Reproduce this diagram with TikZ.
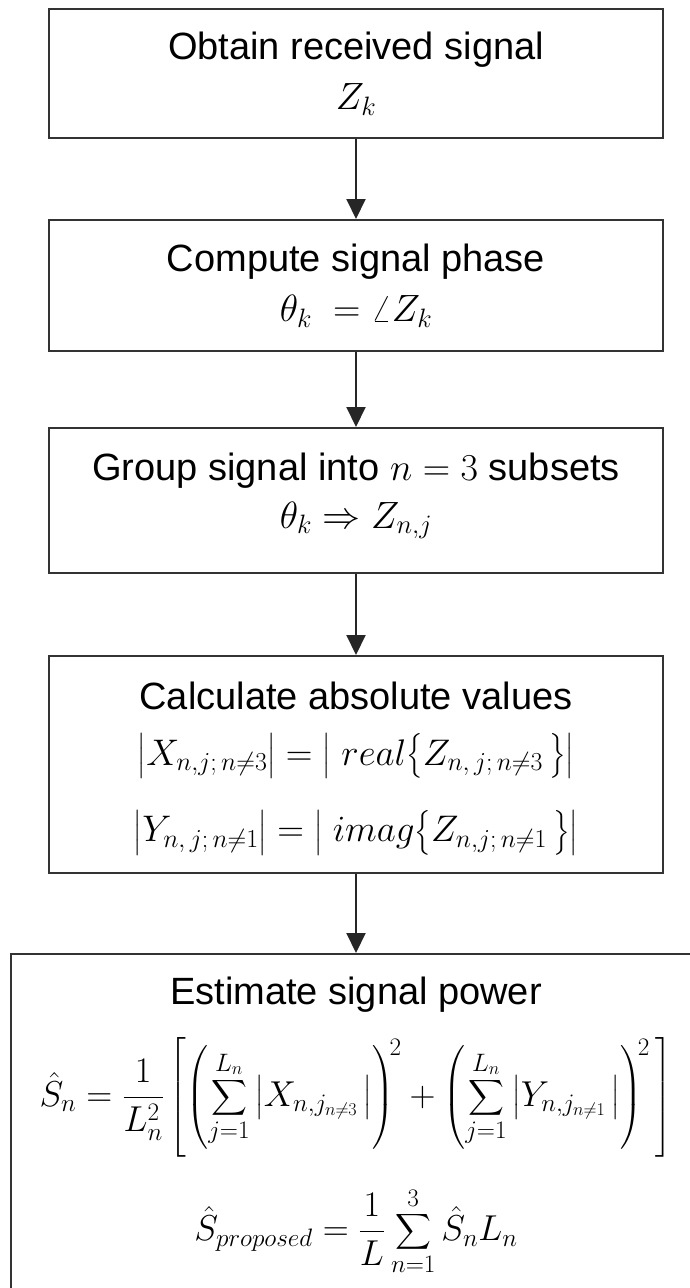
\documentclass[tikz,border=0pt]{standalone}
\usepackage{fix-cm}
\usepackage{amsmath}
\usepackage{fontspec}
\setmainfont{Liberation Sans}
\usetikzlibrary{arrows.meta}
\newcommand{\eqsize}{\fontsize{37}{40}\selectfont}
\newcommand{\sumsize}{\fontsize{36}{38}\selectfont}
\newcommand{\totsize}{\fontsize{36}{40}\selectfont}
\begin{document}
\begin{tikzpicture}[x=1pt,y=-1pt, font=\fontsize{38}{44}\selectfont,
  stage/.style={draw=black!80,line width=2pt,minimum width=614pt,align=center,inner sep=0pt},
  flow/.style={draw=black!85,line width=2pt,-{Triangle[width=19pt,length=20pt]}}]
\useasboundingbox (0,0) rectangle (690,1288);
\clip (0,0) rectangle (690,1288);
% flow chart of the power estimate, top to bottom
\node[stage,minimum height=129pt] (obtain) at (356,73.5) {Obtain received signal\\[6pt]$Z_k$};
\node[stage,minimum height=131pt] (phase) at (356,285.5) {Compute signal phase\\[6pt]$\theta_k\;=\angle Z_k$};
\node[stage,minimum height=145pt] (group) at (356,500.5) {Group signal into $n=3$ subsets\\[4pt]$\theta_k \Rightarrow Z_{n,j}$\rule[-20pt]{0pt}{20pt}};
\node[stage,minimum height=217pt] (absval) at (356,764.5) {\rule{0pt}{44pt}Calculate absolute values\\[12pt]
  \eqsize$\big|X_{n,j;\,n\neq3}\big|=\big|\;real\big\{Z_{n,\,j;\,n\neq3}\,\big\}\big|$\\[31pt]
  \eqsize$\big|Y_{n,\,j;\,n\neq1}\big|=\big|\;imag\big\{Z_{n,j;\,n\neq1}\,\big\}\big|$\rule[-22pt]{0pt}{22pt}};
\node[stage,minimum width=690pt,minimum height=344pt,anchor=north] (power) at (356,953) {Estimate signal power\\[24pt]
  \sumsize$\displaystyle\hat{S}_n=\frac{1}{L_n^2}\left[\left(\sum_{j=1}^{L_n}\left|X_{n,j_{n\neq3}}\,\right|\right)^{\!2}+\left(\sum_{j=1}^{L_n}\left|Y_{n,j_{n\neq1}}\,\right|\right)^{\!2}\,\right]$\\[30pt]
  \totsize$\displaystyle\hat{S}_{proposed}=\frac{1}{L}\sum_{n=1}^{3}\hat{S}_nL_n$};
\draw[flow] (obtain) -- (phase);
\draw[flow] (phase) -- (group);
\draw[flow] (group) -- (absval);
\draw[flow] (absval) -- (power);
\end{tikzpicture}
\end{document}
